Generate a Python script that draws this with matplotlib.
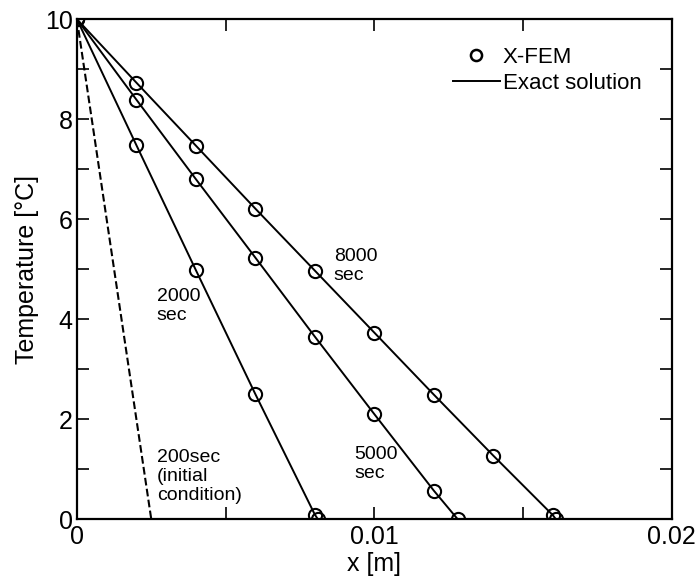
import matplotlib
matplotlib.use('Agg')
from matplotlib import pyplot as plt
from matplotlib.lines import Line2D
from matplotlib.ticker import MultipleLocator

plt.rcParams['font.family'] = ['Liberation Sans', 'DejaVu Sans']

# X-FEM results
x_2000 = [0.0, 0.002, 0.004, 0.006, 0.008, 0.0081]
t_2000 = [10.0, 7.48, 4.98, 2.5, 0.09, 0.0]
x_5000 = [0.0, 0.002, 0.004, 0.006, 0.008, 0.010, 0.012, 0.0128]
t_5000 = [10.0, 8.39, 6.8, 5.23, 3.65, 2.1, 0.57, 0.0]
x_8000 = [0.0, 0.002, 0.004, 0.006, 0.008, 0.010, 0.012, 0.014, 0.016, 0.0161]
t_8000 = [10.0, 8.73, 7.47, 6.21, 4.97, 3.73, 2.49, 1.27, 0.08, 0.0]
x_200 = [0.0, 0.0025]
t_200 = [10.0, 0.0]

fig = plt.figure(figsize=(6.99, 5.80), dpi=100)
ax = fig.add_axes([0.110, 0.105, 0.851, 0.862])

ax.plot(x_200, t_200, 'k--', lw=1.5)
for xs, ts in [(x_2000, t_2000), (x_5000, t_5000), (x_8000, t_8000)]:
    ax.plot(xs, ts, 'k-', lw=1.4)
    ax.plot(xs, ts, 'o', mfc='none', mec='k', ms=9.5, mew=1.5)

# va='baseline' puts the last line on y
kw = dict(fontsize=14, va='baseline', linespacing=1.15)
ax.text(0.00864, 4.78, '8000\nsec', **kw)
ax.text(0.00269, 3.98, '2000\nsec', **kw)
ax.text(0.00269, 0.38, '200sec\n(initial\ncondition)', **kw)
ax.text(0.00934, 0.82, '5000\nsec', **kw)

ax.set_xlim(0, 0.02)
ax.set_ylim(0, 10)
ax.set_xticks([0, 0.01, 0.02])
ax.set_xticklabels(['0', '0.01', '0.02'])
ax.set_yticks([0, 2, 4, 6, 8, 10])
ax.xaxis.set_minor_locator(MultipleLocator(0.005))
ax.yaxis.set_minor_locator(MultipleLocator(1))
ax.tick_params(which='both', direction='in', top=True, right=True,
               length=8.5, width=1.2, labelsize=18)
ax.tick_params(axis='x', pad=4.5)
ax.tick_params(axis='y', pad=3, labelright=False)
for s in ax.spines.values():
    s.set_linewidth(1.6)

ax.set_xlabel('x [m]', fontsize=18, labelpad=2)
ax.set_ylabel('Temperature [°C]', fontsize=18, labelpad=4)

handles = [Line2D([], [], ls='none', marker='o', mfc='none', mec='k', ms=8, mew=1.8),
           Line2D([], [], color='k', lw=1.4)]
ax.legend(handles, ['X-FEM', 'Exact solution'], loc='upper left', frameon=False,
          fontsize=16, handlelength=2.1, handletextpad=0.15, labelspacing=0.25,
          borderpad=0, borderaxespad=0, bbox_to_anchor=(0.632, 0.945))

fig.savefig('out.png', dpi=100)
